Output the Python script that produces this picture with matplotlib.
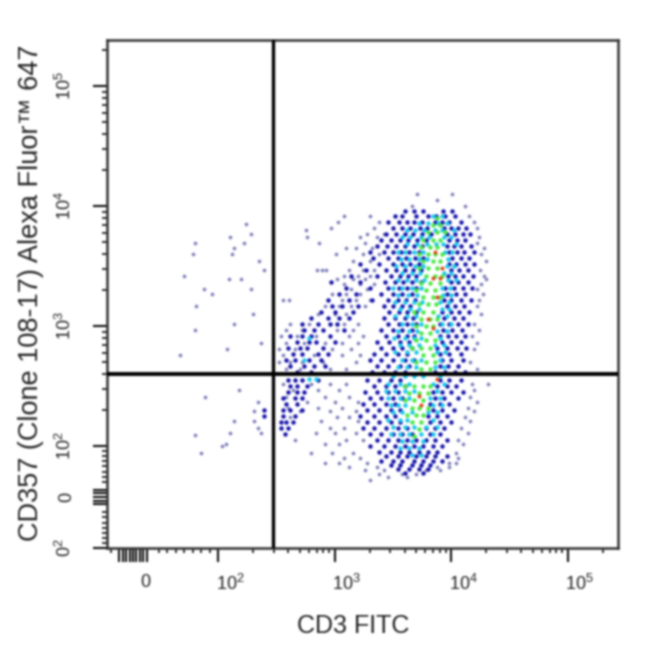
"""
plot.py - CD3 FITC vs CD357 Alexa Fluor 647 flow cytometry dot plot
Output: out.png
"""

import numpy as np
import matplotlib
matplotlib.use('Agg')
import matplotlib.pyplot as plt
from matplotlib.transforms import ScaledTranslation

plt.rcParams['font.family'] = ['Liberation Sans', 'DejaVu Sans']
plt.rcParams['mathtext.default'] = 'regular'

X_LABEL = 'CD3 FITC'
Y_LABEL = 'CD357 (Clone 108-17) Alexa Fluor\u2122 647'
GATE_X  = 294
GATE_Y  = 398

# events: (log10 y, [log10 x, ...]) per row
pale_rows = [
    (4.10, [3.71, 4.01]), (4.05, [3.88]), (4.00, [3.66, 4.12]), (3.92, [3.08, 3.30, 4.15]),
    (3.87, [3.03, 3.38, 4.20]), (3.85, [2.24]), (3.82, [2.97, 3.34, 4.22]), (3.80, [2.75]),
    (3.77, [2.28, 3.28, 3.42]), (3.74, [2.10, 2.76, 3.22, 3.36, 4.24]), (3.69, [1.86, 2.22, 2.87, 3.26, 4.22]),
    (3.65, [2.14, 3.10, 3.18, 3.32, 4.28]), (3.60, [1.85, 2.12, 3.01, 3.24, 3.38, 4.26]),
    (3.54, [2.35, 3.16, 3.30, 4.30]), (3.47, [2.39, 2.85, 2.89, 2.93, 3.12, 3.24, 3.34, 4.25]),
    (3.42, [1.78, 3.08, 3.20, 3.30, 4.28]), (3.39, [2.09, 2.20, 3.02, 3.16, 3.26, 4.30]),
    (3.35, [3.08, 3.22, 3.34, 4.26]), (3.31, [1.92, 2.28, 3.14, 3.28, 4.22]),
    (3.27, [1.97, 2.98, 3.10, 3.22, 4.27]), (3.22, [2.56, 2.61, 3.06, 3.18, 3.30, 4.24]),
    (3.17, [1.87, 2.92, 3.04, 3.14, 3.26, 4.22]), (3.10, [2.30, 2.86, 3.00, 3.10, 4.26]),
    (3.02, [2.14, 2.62, 2.78, 2.96, 3.08, 3.20, 4.20]), (2.97, [1.86, 2.58, 2.72, 3.02, 3.16, 4.24]),
    (2.92, [2.54, 2.68, 2.84, 3.12, 3.24, 4.18]), (2.86, [2.37, 2.58, 2.74, 2.92, 3.06, 3.20, 4.22]),
    (2.81, [2.08, 2.52, 2.66, 2.98, 3.14, 4.20]), (2.76, [1.74, 2.56, 2.82, 3.06, 3.22]),
    (2.70, [2.52, 2.62, 2.72, 2.90, 3.18, 4.16]), (2.64, [2.58, 2.70, 2.96, 3.10, 4.22]),
    (2.52, [2.56, 2.80, 2.96, 3.10, 4.18, 4.32]), (2.47, [2.18, 2.64, 2.86, 3.04, 4.20]),
    (2.41, [1.93, 2.58, 2.92, 3.12, 4.16]), (2.37, [2.34, 2.76, 3.00, 3.20, 4.22]),
    (2.32, [2.60, 2.86, 3.06, 4.14]), (2.29, [2.31, 2.70, 2.96, 3.18, 4.20]),
    (2.24, [2.62, 3.02, 3.12, 4.12]), (2.21, [2.14, 2.31, 2.88, 3.20, 4.16]),
    (2.15, [2.34, 2.96, 3.08, 4.08]), (2.11, [2.10, 2.37, 2.84, 3.00, 3.18, 4.14]),
    (2.09, [1.86]), (2.05, [2.66, 3.10, 3.24, 4.06]), (2.02, [2.07, 2.92, 3.04, 4.10]),
    (2.00, [2.03]), (1.94, [1.90, 2.80, 2.98, 3.16, 4.04]), (1.88, [3.08, 3.22, 4.06]),
    (1.82, [2.92, 3.04, 3.28, 3.98, 4.04]), (1.77, [3.12, 3.36, 3.88, 3.98]),
    (1.72, [3.26, 3.42, 3.78, 3.90]), (1.66, [3.38, 3.58, 3.70]), (1.60, [3.46, 3.62]),
    (1.52, [3.30]),
]

blue_rows = [
    (3.96, [3.60, 3.68, 3.76, 3.93, 4.01]),
    (3.92, [3.52, 3.58, 3.70, 3.80, 3.87, 3.95, 4.03]),
    (3.87, [3.46, 3.55, 3.62, 3.68, 3.75, 3.86, 3.92, 3.98, 4.08]),
    (3.82, [3.50, 3.58, 3.65, 3.73, 3.79, 3.94, 4.00, 4.06, 4.13]),
    (3.77, [3.44, 3.53, 3.60, 3.67, 3.75, 3.83, 3.96, 4.03, 4.10, 4.16]),
    (3.72, [3.40, 3.48, 3.56, 3.63, 3.71, 3.78, 3.98, 4.05, 4.12]),
    (3.67, [3.36, 3.45, 3.53, 3.60, 3.68, 3.75, 3.96, 4.02, 4.08, 4.17]),
    (3.62, [3.30, 3.42, 3.50, 3.57, 3.64, 3.72, 3.98, 4.05, 4.11, 4.20]),
    (3.57, [3.33, 3.46, 3.54, 3.61, 3.69, 3.76, 4.01, 4.08, 4.15]),
    (3.52, [3.22, 3.38, 3.50, 3.58, 3.65, 3.72, 3.98, 4.04, 4.12, 4.20]),
    (3.47, [3.27, 3.44, 3.53, 3.60, 3.67, 3.74, 4.00, 4.07, 4.14]),
    (3.42, [3.14, 3.36, 3.48, 3.56, 3.63, 3.70, 3.97, 4.03, 4.10, 4.19]),
    (3.37, [2.97, 3.22, 3.43, 3.52, 3.59, 3.66, 3.74, 4.00, 4.06, 4.14]),
    (3.32, [3.10, 3.30, 3.46, 3.55, 3.62, 3.70, 3.95, 4.02, 4.10, 4.18]),
    (3.27, [3.04, 3.18, 3.40, 3.50, 3.58, 3.66, 3.96, 4.04, 4.12]),
    (3.22, [2.94, 3.12, 3.32, 3.46, 3.54, 3.61, 3.69, 3.94, 4.00, 4.08, 4.17]),
    (3.17, [2.98, 3.06, 3.20, 3.42, 3.50, 3.58, 3.65, 3.96, 4.03, 4.11]),
    (3.12, [2.88, 3.00, 3.16, 3.47, 3.55, 3.62, 3.70, 3.92, 4.00, 4.07, 4.15]),
    (3.07, [2.80, 2.94, 3.04, 3.12, 3.42, 3.52, 3.60, 3.67, 3.94, 4.02, 4.10]),
    (3.02, [2.72, 2.86, 2.96, 3.02, 3.46, 3.55, 3.62, 3.70, 3.90, 3.98, 4.06, 4.14]),
    (2.97, [2.74, 2.82, 2.90, 3.08, 3.40, 3.50, 3.58, 3.66, 3.93, 4.01, 4.09]),
    (2.92, [2.62, 2.72, 2.80, 2.96, 3.44, 3.54, 3.62, 3.68, 3.90, 3.97, 4.04, 4.12]),
    (2.87, [2.68, 2.78, 2.84, 3.00, 3.36, 3.47, 3.56, 3.64, 3.92, 4.00, 4.08]),
    (2.82, [2.60, 2.70, 2.76, 2.90, 3.40, 3.50, 3.58, 3.66, 3.88, 3.96, 4.05, 4.13]),
    (2.77, [2.64, 2.72, 2.86, 2.94, 3.34, 3.44, 3.54, 3.62, 3.90, 3.98, 4.08]),
    (2.72, [2.58, 2.66, 2.78, 2.88, 3.30, 3.40, 3.50, 3.60, 3.68, 3.92, 4.00, 4.10]),
    (2.67, [2.62, 2.74, 2.82, 2.92, 3.36, 3.46, 3.56, 3.64, 3.90, 3.97, 4.06]),
    (2.62, [2.68, 2.80, 3.32, 3.42, 3.52, 3.60, 3.86, 3.95, 4.03, 4.12]),
    (2.55, [2.60, 2.66, 2.72, 2.86, 3.28, 3.38, 3.48, 3.56, 3.90, 3.98, 4.08]),
    (2.50, [2.62, 2.68, 2.76, 3.34, 3.44, 3.52, 3.60, 3.88, 3.96, 4.04]),
    (2.45, [2.60, 2.68, 2.74, 3.26, 3.36, 3.46, 3.54, 3.84, 3.92, 4.00, 4.10]),
    (2.40, [2.56, 2.66, 2.72, 3.30, 3.40, 3.50, 3.58, 3.86, 3.94, 4.06]),
    (2.35, [2.58, 2.68, 3.24, 3.34, 3.44, 3.52, 3.82, 3.90, 3.98]),
    (2.30, [2.39, 2.56, 2.62, 2.72, 3.28, 3.38, 3.48, 3.56, 3.84, 3.92, 4.02]),
    (2.25, [2.39, 2.56, 2.66, 3.22, 3.34, 3.44, 3.52, 3.80, 3.88, 3.96]),
    (2.20, [2.54, 2.58, 2.64, 3.28, 3.38, 3.48, 3.56, 3.82, 3.90, 4.00]),
    (2.15, [2.54, 2.60, 3.24, 3.34, 3.44, 3.54, 3.62, 3.78, 3.86, 3.94]),
    (2.10, [2.57, 3.30, 3.40, 3.50, 3.58, 3.66, 3.82, 3.90]),
    (2.05, [3.36, 3.46, 3.54, 3.62, 3.70, 3.78, 3.86, 3.96]),
    (2.00, [3.30, 3.42, 3.52, 3.60, 3.68, 3.76, 3.84, 3.92]),
    (1.95, [3.38, 3.48, 3.56, 3.64, 3.72, 3.80, 3.88]),
    (1.90, [3.44, 3.54, 3.62, 3.70, 3.78, 3.86, 3.96]),
    (1.85, [3.40, 3.50, 3.58, 3.68, 3.76, 3.84, 3.92]),
    (1.80, [3.48, 3.56, 3.66, 3.74, 3.82]),
    (1.74, [3.54, 3.64, 3.72, 3.80]),
    (1.68, [3.60, 3.76]),
]

cyan_rows = [
    (3.92, [3.84, 3.92]), (3.86, [3.72, 3.80, 3.89, 3.96]), (3.80, [3.62, 3.69, 3.77, 3.86, 3.92, 4.02]),
    (3.74, [3.58, 3.65, 3.74, 3.81, 3.94, 4.00]), (3.68, [3.62, 3.71, 3.79, 3.87, 3.93, 4.04]),
    (3.62, [3.54, 3.60, 3.68, 3.76, 3.95, 4.01]), (3.56, [3.57, 3.64, 3.72, 3.79, 3.97]),
    (3.50, [3.53, 3.60, 3.69, 3.76, 3.96, 4.02]), (3.44, [3.58, 3.66, 3.73, 3.94, 4.00]),
    (3.38, [3.54, 3.62, 3.70, 3.77, 3.97, 4.04]), (3.32, [3.50, 3.58, 3.66, 3.74, 3.92, 3.99]),
    (3.26, [3.54, 3.63, 3.71, 3.93, 4.00]), (3.20, [3.52, 3.60, 3.68, 3.75, 3.90, 3.98]),
    (3.14, [3.56, 3.65, 3.72, 3.92, 3.98]), (3.08, [3.52, 3.62, 3.70, 3.89, 3.96]),
    (3.02, [3.58, 3.66, 3.74, 3.92, 4.00]), (2.96, [3.54, 3.64, 3.71, 3.88, 3.96]),
    (2.90, [3.51, 3.60, 3.68, 3.74, 3.90]), (2.84, [3.56, 3.64, 3.72, 3.86, 3.94]),
    (2.78, [3.52, 3.62, 3.70, 3.88, 3.95]), (2.72, [3.58, 3.66, 3.74, 3.90]),
    (2.66, [3.54, 3.62, 3.70, 3.86, 3.94]), (2.58, [3.50, 3.60, 3.68, 3.76, 3.90]),
    (2.52, [3.46, 3.56, 3.64, 3.84, 3.94]), (2.46, [3.44, 3.52, 3.60, 3.68, 3.88]),
    (2.40, [3.46, 3.56, 3.64, 3.82, 3.90]), (2.34, [3.48, 3.54, 3.60, 3.84, 3.92]),
    (2.28, [3.50, 3.58, 3.66, 3.80, 3.88]), (2.22, [3.46, 3.56, 3.62, 3.84]),
    (2.16, [3.50, 3.60, 3.68, 3.78, 3.88]), (2.10, [3.48, 3.56, 3.64, 3.74, 3.84]),
    (2.04, [3.58, 3.66, 3.76]), (1.98, [3.56, 3.64, 3.72]), (1.92, [3.66, 3.74]),
    (2.90, [2.78]), (2.72, [2.74]), (2.56, [2.78, 2.84]),
]

green_rows = [
    (3.90, [3.88]), (3.84, [3.84, 3.90]), (3.78, [3.80, 3.88, 3.95]), (3.72, [3.76, 3.84, 3.90]),
    (3.66, [3.74, 3.82, 3.88]), (3.60, [3.72, 3.80, 3.86, 3.92]), (3.54, [3.76, 3.84, 3.90]),
    (3.48, [3.72, 3.80, 3.88]), (3.42, [3.78, 3.86, 3.92]), (3.36, [3.74, 3.82, 3.90]),
    (3.30, [3.70, 3.78, 3.86]), (3.24, [3.76, 3.84, 3.90]), (3.18, [3.72, 3.80, 3.87]),
    (3.12, [3.68, 3.76, 3.84]), (3.06, [3.74, 3.82, 3.88]), (3.00, [3.70, 3.78, 3.84]),
    (2.94, [3.74, 3.82]), (2.88, [3.70, 3.78, 3.86]), (2.82, [3.66, 3.74, 3.82]),
    (2.76, [3.76, 3.84]), (2.70, [3.70, 3.78, 3.86]), (2.64, [3.74, 3.82]),
    (2.50, [3.60, 3.68, 3.76, 3.82]), (2.44, [3.64, 3.72, 3.80]), (2.38, [3.60, 3.68, 3.76]),
    (2.32, [3.66, 3.72, 3.80]), (2.26, [3.62, 3.70, 3.76]), (2.20, [3.66, 3.74]),
    (2.14, [3.72]), (2.08, [3.68]),
]

red_rows = [
    (3.62, [3.86]), (3.48, [3.92]), (3.40, [3.84, 3.90]), (3.24, [3.88]),
    (3.06, [3.80]), (2.98, [3.84]), (2.56, [3.88]), (2.42, [3.72]), (2.34, [3.74]),
]

COLOR_PALE  = '#8080bc'
COLOR_BLUE  = '#1410a8'
COLOR_CYAN  = '#18c8ec'
COLOR_GREEN = '#48e840'
COLOR_RED   = '#e04010'

def rows_to_xy(rows):
    xs = [x for _, row in rows for x in row]
    ys = [y for y, row in rows for _ in row]
    return 10 ** np.array(xs), 10 ** np.array(ys)

# ── Figure ────────────────────────────────────────────────────
fig = plt.figure(figsize=(6.5, 6.5), dpi=100)
ax = fig.add_axes([107/650, 1 - 548/650, 511/650, 508/650])

ax.set_xscale('symlog', linthresh=100, linscale=0.657)
ax.set_yscale('symlog', linthresh=100, linscale=0.3825)
ax.set_xlim(-30.6, 2.7e5)
ax.set_ylim(-100, 2.42e5)

for rows, color, size in [(pale_rows, COLOR_PALE, 7), (blue_rows, COLOR_BLUE, 10),
                          (cyan_rows, COLOR_CYAN, 10), (green_rows, COLOR_GREEN, 10),
                          (red_rows, COLOR_RED, 8)]:
    x, y = rows_to_xy(rows)
    ax.scatter(x, y, s=size, c=color, marker='o', linewidths=0, zorder=2)

ax.axvline(GATE_X, color='#000000', lw=2.4, zorder=3)
ax.axhline(GATE_Y, color='#000000', lw=2.8, zorder=3)

# ticks
x_dense = [-16, -12, -8, -4, 4, 8, 12, 16]
y_dense = [-14, -7, 7, 14]
ax.set_xticks([0, 100, 1000, 10000, 100000] + x_dense)
ax.set_xticklabels(['0', '$10^{2}$', '$10^{3}$', '$10^{4}$', '$10^{5}$'] + [''] * len(x_dense))
xt_minor = [-26, 30, 40, 50, 60, 70, 80, 90]
for d in (100, 1000, 10000):
    xt_minor += [d * m for m in range(2, 10)]
xt_minor += [200000]
ax.set_xticks(xt_minor, minor=True)

ax.set_yticks([-100, 0, 100, 1000, 10000, 100000] + y_dense)
ax.set_yticklabels(['$0^{2}$', '0', '$10^{2}$', '$10^{3}$', '$10^{4}$', '$10^{5}$'] + [''] * len(y_dense))
yt_minor = [-90, -80, -70, -60, -50, -40, -30, 30, 40, 50, 60, 70, 80, 90]
for d in (100, 1000, 10000):
    yt_minor += [d * m for m in range(2, 10)]
yt_minor += [200000]
ax.set_yticks(yt_minor, minor=True)

ax.tick_params(axis='both', which='major', length=10, width=1.5, color='#111111',
               labelsize=13, labelcolor='#222222')
ax.tick_params(axis='both', which='minor', length=3.5, width=1.2, color='#111111')
ax.tick_params(axis='x', which='major', pad=9)
ax.tick_params(axis='y', which='major', pad=13)
for lab in ax.get_yticklabels():
    lab.set_rotation(90)
    lab.set_va('center')
shift = ScaledTranslation(12/100, 0, fig.dpi_scale_trans)
for lab in ax.get_xticklabels():
    lab.set_transform(lab.get_transform() + shift)

for s in ax.spines.values():
    s.set_linewidth(1.8)
    s.set_color('#333333')

fig.text(353/650, 1 - 626/650, X_LABEL, ha='center', va='center', fontsize=18, color='#222222')
fig.text(31/650, 1 - 293/650, Y_LABEL, ha='center', va='center', rotation=90, fontsize=19.5, color='#222222')

fig.savefig('out.png', dpi=100)
plt.close(fig)

# reference is a soft, upscaled scan: same softness here
img = plt.imread('out.png')[:, :, :3]
kernel = np.array([1, 4, 6, 4, 1]) / 16
for axis in (0, 1):
    img = np.apply_along_axis(lambda r: np.convolve(r, kernel, mode='same'), axis, img)
img[:2, :] = 1
img[-2:, :] = 1
img[:, :2] = 1
img[:, -2:] = 1
plt.imsave('out.png', np.clip(img, 0, 1))
